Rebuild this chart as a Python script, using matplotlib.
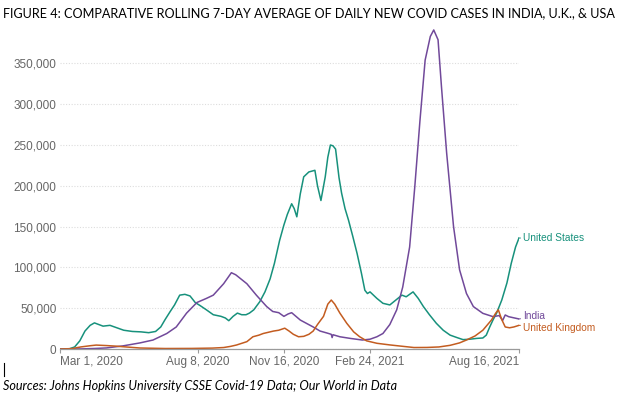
import matplotlib
matplotlib.use('Agg')
import matplotlib.pyplot as plt
import matplotlib.ticker as ticker
import numpy as np
import pandas as pd
from matplotlib.lines import Line2D

#------------------------------------------------------------------------------
# DATA (7-day rolling average of daily new cases, thousands)

us_dates = ['2020-03-01', '2020-03-12', '2020-03-18', '2020-03-24', '2020-03-30', '2020-04-05',
            '2020-04-10', '2020-04-15', '2020-04-20', '2020-04-28', '2020-05-06', '2020-05-14',
            '2020-05-24', '2020-06-03', '2020-06-12', '2020-06-20', '2020-06-26', '2020-07-01',
            '2020-07-07', '2020-07-12', '2020-07-18', '2020-07-24', '2020-07-30', '2020-08-05',
            '2020-08-11', '2020-08-18', '2020-08-26', '2020-09-04', '2020-09-09', '2020-09-13',
            '2020-09-18', '2020-09-23', '2020-09-28', '2020-10-03', '2020-10-07', '2020-10-12',
            '2020-10-19', '2020-10-25', '2020-10-31', '2020-11-05', '2020-11-11', '2020-11-16',
            '2020-11-20', '2020-11-25', '2020-11-28', '2020-12-01', '2020-12-05', '2020-12-09',
            '2020-12-15', '2020-12-22', '2020-12-25', '2020-12-29', '2021-01-03', '2021-01-06',
            '2021-01-09', '2021-01-12', '2021-01-15', '2021-01-19', '2021-01-22', '2021-01-26',
            '2021-01-30', '2021-02-04', '2021-02-09', '2021-02-14', '2021-02-18', '2021-02-21',
            '2021-02-24', '2021-03-04', '2021-03-11', '2021-03-19', '2021-03-26', '2021-04-02',
            '2021-04-07', '2021-04-15', '2021-04-21', '2021-04-27', '2021-05-04', '2021-05-12',
            '2021-05-20', '2021-05-28', '2021-06-05', '2021-06-12', '2021-06-20', '2021-06-28',
            '2021-07-05', '2021-07-09', '2021-07-13', '2021-07-17', '2021-07-21', '2021-07-27',
            '2021-08-02', '2021-08-07', '2021-08-12', '2021-08-16']
us_cases = [0, 0.3, 2.5, 10, 22, 29,
            32, 30, 28, 29, 26, 23,
            21.5, 21, 20, 21.5, 27, 36,
            46, 54, 66, 67, 65, 57,
            53, 48, 42, 40, 38, 34.7,
            40, 44, 42, 42, 44, 48,
            58, 70, 86, 105, 133, 152,
            165, 178, 172, 162, 190, 211,
            217, 219, 200, 182, 211, 235,
            250, 249, 245, 210, 191, 172,
            158, 138, 117, 93, 72, 68,
            70, 62, 56, 54, 60, 66,
            64, 70, 62, 52, 42, 31.5,
            23, 17, 14, 11.5, 12, 13,
            13.5, 17, 27, 36, 44, 60,
            81, 105, 125, 136]

india_dates = ['2020-03-01', '2020-03-25', '2020-04-10', '2020-04-24', '2020-05-13', '2020-06-02',
               '2020-06-17', '2020-07-03', '2020-07-14', '2020-07-26', '2020-08-07', '2020-08-18',
               '2020-08-26', '2020-09-07', '2020-09-16', '2020-09-21', '2020-10-04', '2020-10-15',
               '2020-10-27', '2020-11-03', '2020-11-10', '2020-11-16', '2020-11-21', '2020-11-25',
               '2020-12-05', '2020-12-20', '2020-12-28', '2021-01-05', '2021-01-10', '2021-01-11',
               '2021-01-12', '2021-01-20', '2021-02-01', '2021-02-15', '2021-02-24', '2021-03-04',
               '2021-03-11', '2021-03-19', '2021-03-27', '2021-04-03', '2021-04-11', '2021-04-17',
               '2021-04-23', '2021-04-29', '2021-05-05', '2021-05-09', '2021-05-14', '2021-05-18',
               '2021-05-24', '2021-06-01', '2021-06-08', '2021-06-16', '2021-06-24', '2021-07-05',
               '2021-07-17', '2021-07-24', '2021-07-28', '2021-07-31', '2021-08-04', '2021-08-16']
india_cases = [0, 0.1, 0.6, 1.3, 3.8, 7.5,
               11, 19, 27, 44, 57, 62,
               66, 80, 93.5, 91, 80, 66,
               52, 46, 44.5, 40, 43, 44.5,
               35.5, 27, 22, 19.6, 18, 14,
               17.5, 15, 13, 11, 12, 15,
               19, 30, 48, 76, 125, 199,
               280, 354, 383, 391, 379, 321,
               240, 150, 97, 68, 52, 43.7,
               39.6, 41, 35, 41.7, 39.6, 36.8]

uk_dates = ['2020-03-01', '2020-03-15', '2020-03-25', '2020-04-05', '2020-04-12', '2020-04-24',
            '2020-05-05', '2020-05-13', '2020-06-02', '2020-07-01', '2020-08-01', '2020-08-25',
            '2020-09-07', '2020-09-15', '2020-09-22', '2020-10-04', '2020-10-11', '2020-10-18',
            '2020-10-23', '2020-11-04', '2020-11-10', '2020-11-17', '2020-11-22', '2020-11-27',
            '2020-12-03', '2020-12-09', '2020-12-15', '2020-12-20', '2020-12-25', '2021-01-01',
            '2021-01-06', '2021-01-10', '2021-01-14', '2021-01-20', '2021-01-28', '2021-02-05',
            '2021-02-12', '2021-02-20', '2021-03-04', '2021-03-19', '2021-04-01', '2021-04-16',
            '2021-05-01', '2021-05-15', '2021-05-28', '2021-06-08', '2021-06-16', '2021-06-26',
            '2021-07-05', '2021-07-15', '2021-07-20', '2021-07-23', '2021-07-27', '2021-07-31',
            '2021-08-05', '2021-08-10', '2021-08-16']
uk_cases = [0, 0.5, 2.5, 4, 4.8, 4.2,
            3.5, 2.8, 1.2, 0.6, 0.7, 1.1,
            1.8, 3.2, 4.9, 9, 15, 17,
            19, 22, 23, 25.5, 22, 18,
            15, 15.5, 18, 22, 30, 40,
            55, 60, 55, 44, 31.5, 21,
            15, 10, 7, 5, 3.5, 1.8,
            1.9, 2.5, 4.5, 7.5, 11, 16,
            23, 35.5, 44, 48, 36, 27,
            26, 27, 29]

series_names = ['United States', 'India', 'United Kingdom']
label_values = [136, 40, 25.7]     # where the end labels sit (thousands)
y_ticks = [0, 50000, 100000, 150000, 200000, 250000, 300000, 350000]
x_ticks = ['2020-03-01', '2020-08-08', '2020-11-16', '2021-02-24', '2021-08-16']
x_tick_labels = ['Mar 1, 2020', 'Aug 8, 2020', 'Nov 16, 2020', 'Feb 24, 2021', 'Aug 16, 2021']

title = 'FIGURE 4: COMPARATIVE ROLLING 7-DAY AVERAGE OF DAILY NEW COVID CASES IN INDIA, U.K., & USA'
source = 'Sources: Johns Hopkins University CSSE Covid-19 Data; Our World in Data'

#------------------------------------------------------------------------------
# PLOT THE GRAPH

c_us = '#17917c'
c_in = '#71499a'
c_uk = '#c35c20'
grey = '#666666'

fig = plt.figure(figsize=(6.28, 4.08), dpi=100)
ax = fig.add_axes([60/628, 59/408, 459/628, 322.3/408])

series = [(us_dates, us_cases, c_us), (india_dates, india_cases, c_in), (uk_dates, uk_cases, c_uk)]
for (d, v, c) in series:
    ax.plot(pd.to_datetime(d), np.array(v)*1000, color=c, lw=1.1, solid_joinstyle='round')

# Format axes
ax.set_xlim(pd.Timestamp('2020-03-01'), pd.Timestamp('2021-08-16'))
ax.set_ylim(0, 395000)
ax.set_yticks(y_ticks)
ax.yaxis.set_major_formatter(ticker.FuncFormatter(lambda v, p: '{:,.0f}'.format(v)))
ax.set_xticks(pd.to_datetime(x_ticks))
ax.set_xticklabels(x_tick_labels)
xl = ax.get_xticklabels()
xl[0].set_ha('left')
xl[-1].set_ha('right')

for s in ['top', 'right', 'left']:
    ax.spines[s].set_visible(False)
ax.spines['bottom'].set_color('#9a9a9a')
ax.spines['bottom'].set_linewidth(0.9)
ax.tick_params(axis='y', length=0, pad=2.5, labelsize=8.5, labelcolor=grey, labelfontfamily='Liberation Sans')
ax.tick_params(axis='x', length=3, width=0.8, color='#9a9a9a', pad=2, labelsize=8.5,
               labelcolor=grey, labelfontfamily='Liberation Sans')
ax.yaxis.grid(True, ls=(0, (1, 1.5)), color='#dddddd', lw=0.8)
ax.set_axisbelow(True)

# End labels
for (d, v, c), name, lv in zip(series, series_names, label_values):
    ax.annotate(name, xy=(pd.Timestamp(d[-1]), v[-1]*1000), xytext=(1.009, lv*1000),
                textcoords=('axes fraction', 'data'), va='center', ha='left', color=c,
                fontsize=7.3, family='Liberation Sans', annotation_clip=False,
                arrowprops=dict(arrowstyle='-', color=c, lw=0.8, shrinkA=0, shrinkB=0))

# Title and source
fig.text(3/628, 1-13.5/408, title, fontsize=9.1, family='Lato', va='center', ha='left', color='black')
fig.text(3.3/628, 1-386/408, source, fontsize=9.1, family='Lato', style='italic',
         va='center', ha='left', color='black')
fig.add_artist(Line2D([4.3/628, 4.3/628], [1-362.7/408, 1-376/408], color='black', lw=0.8))

fig.savefig('out.png', dpi=100)
